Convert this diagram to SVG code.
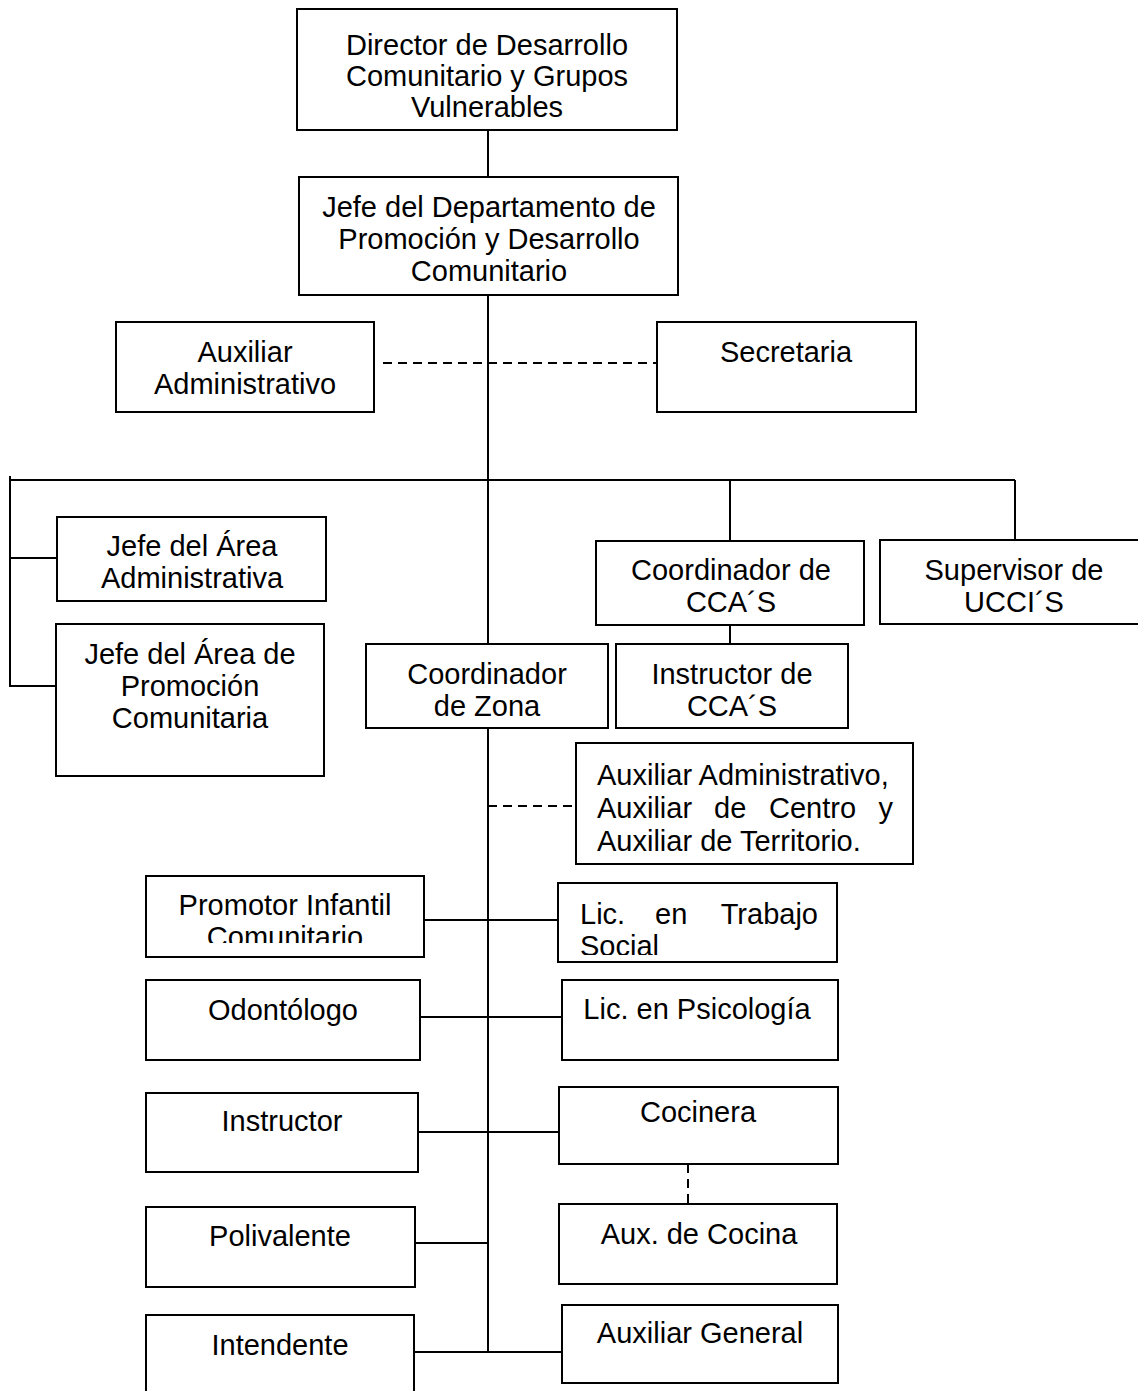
<svg xmlns="http://www.w3.org/2000/svg" width="1138" height="1391" viewBox="0 0 1138 1391">
<style>
.b{fill:#fff;stroke:#000;stroke-width:2}
.t{font-family:"Liberation Sans",Arial,sans-serif;font-size:29px;fill:#000;text-anchor:middle}
.l{font-family:"Liberation Sans",Arial,sans-serif;font-size:29px;fill:#000}
.c{fill:none;stroke:#000;stroke-width:2}
.d{fill:none;stroke:#000;stroke-width:2;stroke-dasharray:9 6}
</style>
<defs>
<clipPath id="cp1"><rect x="147" y="877" width="276" height="66"/></clipPath>
<clipPath id="cp2"><rect x="558" y="883" width="278" height="72"/></clipPath>
</defs>
<rect width="1138" height="1391" fill="#fff"/>
<g id="connectors">
<path class="c" d="M488 130V177M488 295V644M488 728V1352"/>
<path class="d" d="M383 363H657"/>
<path class="c" d="M10 480H1015M10 476V687M11 558H57M11 686H56"/>
<path class="c" d="M730 480V541M730 625V644M1015 480V540"/>
<path class="d" d="M488 806H576"/>
<path class="c" d="M424 920H558M420 1017H562M418 1132H559M415 1243H488M414 1352H562"/>
<path class="d" d="M688 1164V1204"/>
</g>
<g id="n1"><rect class="b" x="297" y="9" width="380" height="121"/><text class="t"><tspan x="487" y="55">Director de Desarrollo</tspan><tspan x="487" y="86">Comunitario y Grupos</tspan><tspan x="487" y="117">Vulnerables</tspan></text></g>
<g id="n2"><rect class="b" x="299" y="177" width="379" height="118"/><text class="t"><tspan x="489" y="217">Jefe del Departamento de</tspan><tspan x="489" y="249">Promoción y Desarrollo</tspan><tspan x="489" y="281">Comunitario</tspan></text></g>
<g id="n3"><rect class="b" x="116" y="322" width="258" height="90"/><text class="t"><tspan x="245" y="362">Auxiliar</tspan><tspan x="245" y="394">Administrativo</tspan></text></g>
<g id="n4"><rect class="b" x="657" y="322" width="259" height="90"/><text class="t" x="786" y="362">Secretaria</text></g>
<g id="n5"><rect class="b" x="57" y="517" width="269" height="84"/><text class="t"><tspan x="192" y="556">Jefe del Área</tspan><tspan x="192" y="588">Administrativa</tspan></text></g>
<g id="n6"><rect class="b" x="56" y="624" width="268" height="152"/><text class="t"><tspan x="190" y="664">Jefe del Área de</tspan><tspan x="190" y="696">Promoción</tspan><tspan x="190" y="728">Comunitaria</tspan></text></g>
<g id="n7"><rect class="b" x="366" y="644" width="242" height="84"/><text class="t"><tspan x="487" y="684">Coordinador</tspan><tspan x="487" y="716">de Zona</tspan></text></g>
<g id="n8"><rect class="b" x="596" y="541" width="268" height="84"/><text class="t"><tspan x="731" y="580">Coordinador de</tspan><tspan x="731" y="612">CCA´S</tspan></text></g>
<g id="n9"><rect class="b" x="616" y="644" width="232" height="84"/><text class="t"><tspan x="732" y="684">Instructor de</tspan><tspan x="732" y="716">CCA´S</tspan></text></g>
<g id="n10"><rect class="b" x="880" y="540" width="262" height="84"/><text class="t"><tspan x="1014" y="580">Supervisor de</tspan><tspan x="1014" y="612">UCCI´S</tspan></text></g>
<g id="n11"><rect class="b" x="576" y="743" width="337" height="121"/><text class="l" x="597" y="785">Auxiliar Administrativo,</text><text class="l" x="597" y="818">Auxiliar</text><text class="l" x="714" y="818">de</text><text class="l" x="769" y="818">Centro</text><text class="l" x="893" y="818" text-anchor="end">y</text><text class="l" x="597" y="851">Auxiliar de Territorio.</text></g>
<g id="n12"><rect class="b" x="146" y="876" width="278" height="81"/><g clip-path="url(#cp1)"><text class="t"><tspan x="285" y="915">Promotor Infantil</tspan><tspan x="285" y="947">Comunitario</tspan></text></g></g>
<g id="n13"><rect class="b" x="558" y="883" width="279" height="79"/><g clip-path="url(#cp2)"><text class="l" x="580" y="924">Lic.</text><text class="l" x="655" y="924">en</text><text class="l" x="818" y="924" text-anchor="end">Trabajo</text><text class="l" x="580" y="956">Social</text></g></g>
<g id="n14"><rect class="b" x="146" y="980" width="274" height="80"/><text class="t" x="283" y="1020">Odontólogo</text></g>
<g id="n15"><rect class="b" x="562" y="980" width="276" height="80"/><text class="t" x="697" y="1019">Lic. en Psicología</text></g>
<g id="n16"><rect class="b" x="146" y="1093" width="272" height="79"/><text class="t" x="282" y="1131">Instructor</text></g>
<g id="n17"><rect class="b" x="559" y="1087" width="279" height="77"/><text class="t" x="698" y="1122">Cocinera</text></g>
<g id="n18"><rect class="b" x="559" y="1204" width="278" height="80"/><text class="t" x="699" y="1244">Aux. de Cocina</text></g>
<g id="n19"><rect class="b" x="146" y="1207" width="269" height="80"/><text class="t" x="280" y="1246">Polivalente</text></g>
<g id="n20"><rect class="b" x="562" y="1305" width="276" height="78"/><text class="t" x="700" y="1343">Auxiliar General</text></g>
<g id="n21"><rect class="b" x="146" y="1315" width="268" height="90"/><text class="t" x="280" y="1355">Intendente</text></g>
</svg>
